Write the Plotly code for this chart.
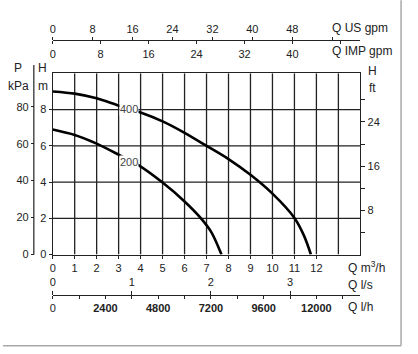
import plotly.graph_objects as go

# ---------------- data ----------------
q400 = [0, 1, 2, 3, 4, 5, 6, 7, 8, 9, 10, 11, 11.44, 11.75]
h400 = [9.0, 8.88, 8.62, 8.22, 7.84, 7.35, 6.72, 6.0, 5.27, 4.40, 3.36, 2.02, 1.03, 0]
q200 = [0, 1, 2, 3, 3.92, 5, 6, 6.7, 7.23, 7.68]
h200 = [6.9, 6.6, 6.12, 5.51, 4.92, 3.97, 2.93, 2.06, 1.21, 0]
curve_labels = ["400", "200"]
label_pos = [(3.48, 8.02), (3.48, 5.12)]

m3h_ticks = list(range(0, 13))
m3h_grid = list(range(1, 14))
h_m_ticks = [0, 2, 4, 6, 8]
h_m_grid = [2, 4, 6, 8]
kpa_ticks = [0, 20, 40, 60, 80]
ft_ticks = [8, 16, 24]
ft_minor = [4, 12, 20, 28]
us_ticks = [0, 8, 16, 24, 32, 40, 48]
us_minor = [56]
imp_ticks = [0, 8, 16, 24, 32, 40]
imp_minor = [48]
ls_ticks = [0, 1, 2, 3]
lh_ticks = [0, 2400, 4800, 7200, 9600, 12000]
lh_text = ["0"] + ["<b>%d</b>" % v for v in lh_ticks[1:]]
lh_minor_step = 1200

QMAX = 14.0
HMAX = 10.0

# ---------------- geometry (pixels) ----------------
W, H = 418, 354
ML, MR, MT, MB = 10, 10, 10, 10
PW, PH = W - ML - MR, H - MT - MB

def px(x):
    return (x - ML) / PW

def py(y):
    return (H - MB - y) / PH

FONT = "Liberation Sans, Arial, sans-serif"
TXT = "#222222"
tf = dict(family=FONT, size=11, color=TXT)
LC = "#222222"

fig = go.Figure()
fig.add_trace(go.Scatter(x=q400, y=h400, mode="lines", line=dict(color="black", width=2.6, shape="spline", smoothing=0.8),
                         showlegend=False, hoverinfo="skip"))
fig.add_trace(go.Scatter(x=q200, y=h200, mode="lines", line=dict(color="black", width=2.6, shape="spline", smoothing=0.8),
                         showlegend=False, hoverinfo="skip"))

fig.update_layout(
    width=W, height=H,
    margin=dict(l=ML, r=MR, t=MT, b=MB),
    paper_bgcolor="white", plot_bgcolor="white",
    font=tf,
    xaxis=dict(domain=[px(50), px(360)], range=[0, QMAX], tickvals=m3h_ticks,
               ticks="outside", ticklen=3, tickcolor=LC, showline=True, linecolor=LC, linewidth=1.3,
               mirror=True, zeroline=False, showgrid=False, tickfont=tf),
    yaxis=dict(domain=[py(259), py(74.5)], range=[0, HMAX], tickvals=h_m_ticks,
               ticks="outside", ticklen=3, tickcolor=LC, showline=True, linecolor=LC, linewidth=1.3,
               mirror=True, zeroline=False, showgrid=False, tickfont=tf),
    yaxis2=dict(overlaying="y", side="right", anchor="x", range=[0, HMAX * 3.2808],
                tickvals=ft_ticks, ticks="outside", ticklen=4, tickcolor=LC,
                minor=dict(tickvals=ft_minor, ticks="outside", ticklen=4, tickcolor=LC, showgrid=False),
                showgrid=False, zeroline=False, showline=False, tickfont=tf),
    yaxis3=dict(overlaying="y", side="left", anchor="free", position=px(31), range=[0, HMAX * 9.807],
                tickvals=kpa_ticks, ticks="outside", ticklen=3, tickcolor=LC,
                showgrid=False, zeroline=False, showline=False, tickfont=tf),
    xaxis2=dict(overlaying="x", side="top", anchor="free", position=py(41), range=[0, QMAX * 4.4029],
                tickvals=us_ticks, ticks="outside", ticklen=3, tickcolor=LC,
                minor=dict(tickvals=us_minor, ticks="outside", ticklen=3, tickcolor=LC, showgrid=False),
                showline=True, linecolor=LC, linewidth=1.2, showgrid=False, zeroline=False, tickfont=tf),
    xaxis3=dict(overlaying="x", side="bottom", anchor="free", position=py(41), range=[0, QMAX * 3.6662],
                tickvals=imp_ticks, ticks="outside", ticklen=3, tickcolor=LC,
                minor=dict(tickvals=imp_minor, ticks="outside", ticklen=3, tickcolor=LC, showgrid=False),
                showline=False, showgrid=False, zeroline=False, tickfont=tf),
    xaxis4=dict(overlaying="x", side="top", anchor="free", position=py(300), range=[0, QMAX / 3.6],
                tickvals=ls_ticks, ticks="outside", ticklen=4, tickcolor=LC,
                showline=True, linecolor=LC, linewidth=1.2, showgrid=False, zeroline=False, tickfont=tf),
    xaxis5=dict(overlaying="x", side="bottom", anchor="free", position=py(300), range=[0, QMAX * 1000],
                tickvals=lh_ticks, ticktext=lh_text, ticks="outside", ticklen=3, tickcolor=LC,
                minor=dict(dtick=lh_minor_step, tick0=0, ticks="outside", ticklen=3, tickcolor=LC, showgrid=False),
                showline=False, showgrid=False, zeroline=False, tickfont=tf),
)

# dummy traces to activate the extra axes
fig.add_trace(go.Scatter(x=[None], y=[None], yaxis="y2", showlegend=False))
fig.add_trace(go.Scatter(x=[None], y=[None], yaxis="y3", showlegend=False))
fig.add_trace(go.Scatter(x=[None], y=[None], xaxis="x2", showlegend=False))
fig.add_trace(go.Scatter(x=[None], y=[None], xaxis="x3", showlegend=False))
fig.add_trace(go.Scatter(x=[None], y=[None], xaxis="x4", showlegend=False))
fig.add_trace(go.Scatter(x=[None], y=[None], xaxis="x5", showlegend=False))

# grid lines (from the axis tick arrays)
for q in m3h_grid:
    fig.add_shape(type="line", xref="x", yref="y", x0=q, x1=q, y0=0, y1=HMAX, layer="below",
                  line=dict(color=LC, width=1.3))
for h in h_m_grid:
    fig.add_shape(type="line", xref="x", yref="y", x0=0, x1=QMAX, y0=h, y1=h, layer="below",
                  line=dict(color=LC, width=1.3))

# curve labels
for lab, (qx, hy) in zip(curve_labels, label_pos):
    fig.add_annotation(x=qx, y=hy, xref="x", yref="y", text=lab, showarrow=False,
                       font=dict(family=FONT, size=11, color="#444"), bgcolor="white", borderpad=0)

def note(xp, yp, text, anchor="left", size=12):
    fig.add_annotation(x=px(xp), y=py(yp), xref="paper", yref="paper", text=text, showarrow=False,
                       xanchor=anchor, yanchor="middle", font=dict(family=FONT, size=size, color=TXT))

note(329, 28, "Q US gpm")
note(329, 52, "Q IMP gpm")
note(346, 272, "Q m<sup>3</sup>/h")
note(346, 290, "Q l/s")
note(346, 312, "Q l/h")
note(366, 72, "H")
note(367, 89, "ft")
note(15, 69, "P", "center")
note(16, 87, "kPa", "center")
note(40, 69, "H", "center")
note(40, 87, "m", "center")

# kPa axis line (extends into header)
fig.add_shape(type="line", xref="paper", yref="paper", x0=px(31), x1=px(31), y0=py(259), y1=py(66),
              line=dict(color=LC, width=1.2))
# outer gray frame (right and bottom)
fig.add_shape(type="line", xref="paper", yref="paper", x0=px(401), x1=px(401), y0=py(0), y1=py(352),
              line=dict(color="#a8a8a8", width=1.5))
fig.add_shape(type="line", xref="paper", yref="paper", x0=px(0), x1=px(401), y0=py(352), y1=py(352),
              line=dict(color="#a8a8a8", width=1.5))

fig.write_html("out.html")
